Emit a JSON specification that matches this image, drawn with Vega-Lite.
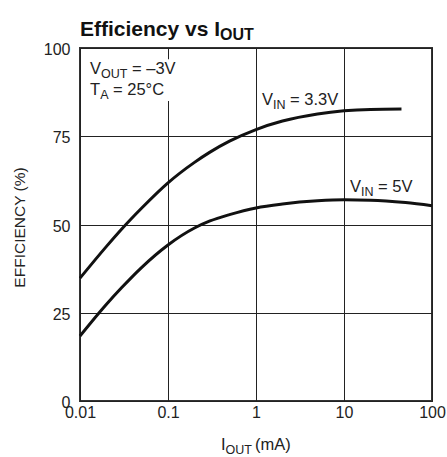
{
  "$schema": "https://vega.github.io/schema/vega-lite/v6.json",
  "autosize": {"type": "none"},
  "padding": {"left": 80, "top": 48, "right": 15, "bottom": 56},
  "width": 352,
  "height": 353,
  "background": "white",
  "config": {
    "font": "Liberation Sans",
    "view": {"stroke": "#333", "strokeWidth": 2},
    "axis": {"gridColor": "#222", "gridOpacity": 1, "gridWidth": 1, "labelColor": "#222", "titleColor": "#222", "domain": false, "ticks": false, "labelFlush": false},
    "text": {"align": "left", "baseline": "alphabetic", "fontSize": 16.5, "color": "#222"}
  },
  "layer": [
    {
      "data": {"values": [{}]},
      "mark": {"type": "rect", "color": "white", "opacity": 1},
      "encoding": {"x": {"datum": 0.0103}, "x2": {"datum": 0.11}, "y": {"datum": 85.0}, "y2": {"datum": 96.8}}
    },
    {
      "data": {
        "values": [
          {"vin": "3.3V", "current": 0.01, "efficiency": 34.8},
          {"vin": "3.3V", "current": 0.02, "efficiency": 43.8},
          {"vin": "3.3V", "current": 0.03, "efficiency": 48.8},
          {"vin": "3.3V", "current": 0.05, "efficiency": 54.6},
          {"vin": "3.3V", "current": 0.1, "efficiency": 61.8},
          {"vin": "3.3V", "current": 0.2, "efficiency": 67.6},
          {"vin": "3.3V", "current": 0.3, "efficiency": 70.5},
          {"vin": "3.3V", "current": 0.5, "efficiency": 73.6},
          {"vin": "3.3V", "current": 1, "efficiency": 76.9},
          {"vin": "3.3V", "current": 2, "efficiency": 79.3},
          {"vin": "3.3V", "current": 5, "efficiency": 81.3},
          {"vin": "3.3V", "current": 10, "efficiency": 82.2},
          {"vin": "3.3V", "current": 20, "efficiency": 82.6},
          {"vin": "3.3V", "current": 45, "efficiency": 82.7},
          {"vin": "5V", "current": 0.01, "efficiency": 18.4},
          {"vin": "5V", "current": 0.02, "efficiency": 27.4},
          {"vin": "5V", "current": 0.03, "efficiency": 32.2},
          {"vin": "5V", "current": 0.05, "efficiency": 37.8},
          {"vin": "5V", "current": 0.1, "efficiency": 44.2},
          {"vin": "5V", "current": 0.2, "efficiency": 49.0},
          {"vin": "5V", "current": 0.3, "efficiency": 51.0},
          {"vin": "5V", "current": 0.5, "efficiency": 52.8},
          {"vin": "5V", "current": 1, "efficiency": 54.7},
          {"vin": "5V", "current": 2, "efficiency": 55.8},
          {"vin": "5V", "current": 5, "efficiency": 56.7},
          {"vin": "5V", "current": 10, "efficiency": 57.0},
          {"vin": "5V", "current": 20, "efficiency": 56.9},
          {"vin": "5V", "current": 50, "efficiency": 56.2},
          {"vin": "5V", "current": 100, "efficiency": 55.3}
        ]
      },
      "mark": {"type": "line", "color": "#111", "strokeWidth": 3, "interpolate": "monotone"},
      "encoding": {
        "x": {"field": "current", "type": "quantitative", "scale": {"type": "log", "domain": [0.01, 100]},
              "axis": {"values": [0.01, 0.1, 1, 10, 100], "format": "~g", "title": null, "labelFontSize": 16, "labelPadding": 3, "grid": true}},
        "y": {"field": "efficiency", "type": "quantitative", "scale": {"domain": [0, 100]},
              "axis": {"values": [0, 25, 50, 75, 100], "title": "EFFICIENCY (%)", "titleFontWeight": "normal", "titleFontSize": 15.5, "titleX": -61, "titleY": 179, "titleBaseline": "middle", "titleAlign": "center", "labelFontSize": 16, "labelPadding": 10, "labelOffset": 1.5, "grid": true}},
        "detail": {"field": "vin"}
      }
    },
    {
      "data": {"values": [{}]},
      "layer": [
        {"mark": {"type": "text", "text": "Efficiency vs I", "fontWeight": "bold", "fontSize": 21, "color": "#111"},
         "encoding": {"x": {"datum": 0.01}, "y": {"datum": 103.4}}},
        {"mark": {"type": "text", "text": "OUT", "fontWeight": "bold", "fontSize": 16, "dx": 140, "dy": 4, "color": "#111"},
         "encoding": {"x": {"datum": 0.01}, "y": {"datum": 103.4}}},

        {"mark": {"type": "text", "text": "V"}, "encoding": {"x": {"datum": 0.013}, "y": {"datum": 92.6}}},
        {"mark": {"type": "text", "text": "OUT", "fontSize": 12.5, "dx": 11, "dy": 3.5}, "encoding": {"x": {"datum": 0.013}, "y": {"datum": 92.6}}},
        {"mark": {"type": "text", "text": "= –3V", "dx": 42}, "encoding": {"x": {"datum": 0.013}, "y": {"datum": 92.6}}},

        {"mark": {"type": "text", "text": "T"}, "encoding": {"x": {"datum": 0.013}, "y": {"datum": 86.8}}},
        {"mark": {"type": "text", "text": "A", "fontSize": 12.5, "dx": 10.1, "dy": 4}, "encoding": {"x": {"datum": 0.013}, "y": {"datum": 86.8}}},
        {"mark": {"type": "text", "text": "= 25°C", "dx": 23}, "encoding": {"x": {"datum": 0.013}, "y": {"datum": 86.8}}},

        {"mark": {"type": "text", "text": "V"}, "encoding": {"x": {"datum": 1.17}, "y": {"datum": 83.9}}},
        {"mark": {"type": "text", "text": "IN", "fontSize": 12.5, "dx": 11, "dy": 4}, "encoding": {"x": {"datum": 1.17}, "y": {"datum": 83.9}}},
        {"mark": {"type": "text", "text": "= 3.3V", "dx": 28.1}, "encoding": {"x": {"datum": 1.17}, "y": {"datum": 83.9}}},

        {"mark": {"type": "text", "text": "V"}, "encoding": {"x": {"datum": 11.7}, "y": {"datum": 59.2}}},
        {"mark": {"type": "text", "text": "IN", "fontSize": 12.5, "dx": 11, "dy": 4}, "encoding": {"x": {"datum": 11.7}, "y": {"datum": 59.2}}},
        {"mark": {"type": "text", "text": "= 5V", "dx": 28.1}, "encoding": {"x": {"datum": 11.7}, "y": {"datum": 59.2}}},

        {"mark": {"type": "text", "text": "I"}, "encoding": {"x": {"datum": 0.40}, "y": {"datum": -14.0}}},
        {"mark": {"type": "text", "text": "OUT", "fontSize": 12.5, "dx": 4.6, "dy": 4}, "encoding": {"x": {"datum": 0.40}, "y": {"datum": -14.0}}},
        {"mark": {"type": "text", "text": "(mA)", "dx": 34}, "encoding": {"x": {"datum": 0.40}, "y": {"datum": -14.0}}}
      ]
    }
  ]
}
